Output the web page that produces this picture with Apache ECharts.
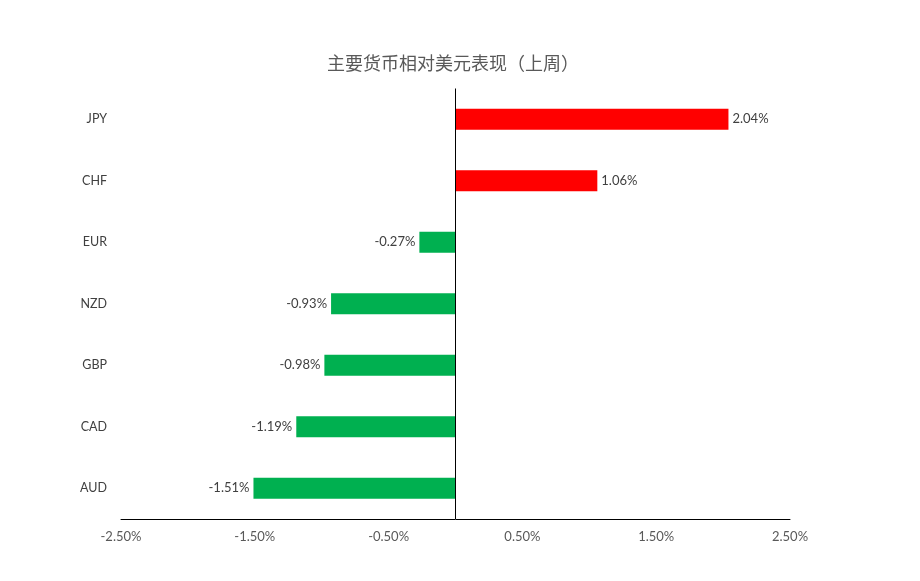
<!DOCTYPE html>
<html>
<head>
<meta charset="utf-8">
<script src="https://cdn.jsdelivr.net/npm/echarts@6/dist/echarts.min.js"></script>
<style>html,body{margin:0;padding:0;background:#fff;}#c{width:920px;height:581px;}</style>
</head>
<body>
<div id="c"></div>
<script>
const titleText = '主要货币相对美元表现（上周）';
const categories = ['JPY', 'CHF', 'EUR', 'NZD', 'GBP', 'CAD', 'AUD'];
const values = [2.04, 1.06, -0.27, -0.93, -0.98, -1.19, -1.51];
const xMin = -2.5, xMax = 2.5, xStep = 1;

const chart = echarts.init(document.getElementById('c'), null, {renderer: 'canvas'});
const data = values.map(v => ({
  value: v,
  itemStyle: {color: v >= 0 ? '#FF0000' : '#00B050'},
  label: {position: v >= 0 ? 'right' : 'left'}
}));
chart.setOption({
  backgroundColor: '#fff',
  animation: false,
  title: {
    text: titleText, left: 322, top: 49,
    textStyle: {fontFamily: 'Noto Sans CJK SC', fontSize: 18, fontWeight: 'normal', color: '#595959'}
  },
  grid: {left: 121, right: 130, top: 88.5, bottom: 62, containLabel: false},
  xAxis: {
    type: 'value', min: xMin, max: xMax, interval: xStep,
    axisLine: {show: true, onZero: false, lineStyle: {color: '#000', width: 1}},
    axisTick: {show: false},
    splitLine: {show: false},
    axisLabel: {
      margin: 11, color: '#595959', fontFamily: 'Lato', fontSize: 13,
      formatter: v => v.toFixed(2) + '%'
    }
  },
  yAxis: {
    type: 'category', data: categories, inverse: true,
    axisLine: {show: false, onZero: false},
    axisTick: {show: false},
    axisLabel: {margin: 14, color: '#404040', fontFamily: 'Lato', fontSize: 12.5}
  },
  series: [{
    type: 'bar', data: data, barWidth: 21,
    label: {
      show: true, distance: 4, color: '#404040', fontFamily: 'Lato', fontSize: 13,
      formatter: p => p.value.toFixed(2) + '%'
    },
    markLine: {
      silent: true, symbol: 'none', label: {show: false},
      lineStyle: {color: '#000', width: 1, type: 'solid'},
      data: [{xAxis: 0}]
    }
  }]
});
</script>
</body>
</html>
